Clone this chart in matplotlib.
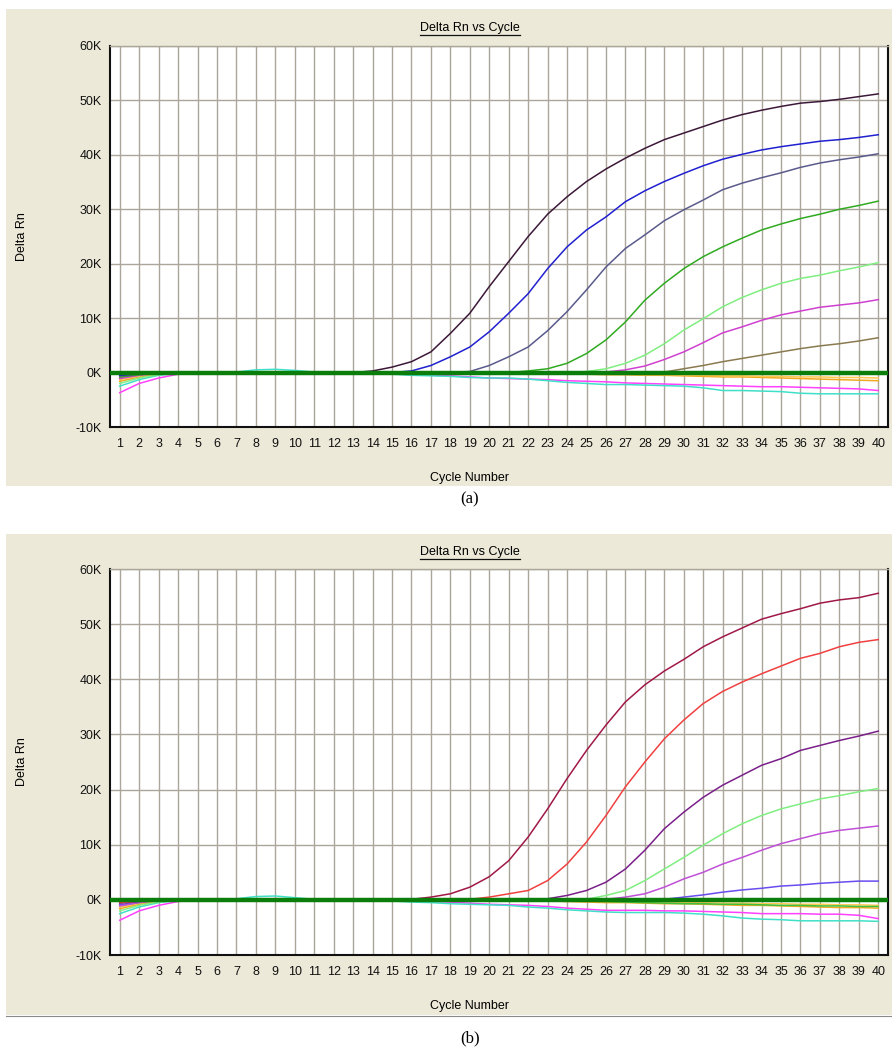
import matplotlib
matplotlib.use("Agg")
import matplotlib.pyplot as plt
from matplotlib.patches import Rectangle
from matplotlib.lines import Line2D

# Cycle numbers shared by both panels
cycles = list(range(1, 41))
yticks = [-10, 0, 10, 20, 30, 40, 50, 60]
ytickLabels = ["-10K", "0K", "10K", "20K", "30K", "40K", "50K", "60K"]

# Panel (a) amplification curves, values in thousands
a_dark = [-0.3, -0.1, 0, 0, 0, 0, 0, 0, -0.3, -0.3, -0.3, 0, 0, 0.3, 1.0, 2.0, 3.8, 7.2, 10.9, 15.8,
          20.4, 25.0, 29.1, 32.3, 35.1, 37.4, 39.4, 41.2, 42.8, 44.0, 45.2, 46.4, 47.4, 48.2, 48.9, 49.5, 49.8, 50.2, 50.7, 51.2]
a_blue = [-0.5, -0.2, 0, 0, 0, 0, 0, 0, 0, 0, 0, 0, 0, 0, 0, 0.3, 1.3, 2.9, 4.7, 7.5,
          10.9, 14.5, 19.1, 23.1, 26.2, 28.6, 31.4, 33.4, 35.1, 36.6, 38.0, 39.2, 40.1, 40.9, 41.5, 42.0, 42.5, 42.8, 43.2, 43.7]
a_slate = [-0.6, -0.3, 0, 0, 0, 0, 0, 0, 0, 0, 0, 0, 0, 0, 0, 0, 0, 0, 0.2, 1.3,
           2.9, 4.7, 7.7, 11.2, 15.2, 19.4, 22.8, 25.3, 27.9, 29.9, 31.7, 33.6, 34.8, 35.8, 36.7, 37.7, 38.5, 39.1, 39.6, 40.2]
a_green = [-0.8, -0.4, 0, 0, 0, 0, 0, 0, 0, 0, 0, 0, 0, 0, 0, 0, 0, 0, 0, 0,
           0, 0.3, 0.7, 1.7, 3.5, 6.0, 9.3, 13.3, 16.4, 19.1, 21.3, 23.1, 24.7, 26.2, 27.3, 28.3, 29.1, 30.0, 30.7, 31.5]
a_light = [-2.0, -1.0, -0.4, 0, 0, 0, 0, 0, 0, 0, 0, 0, 0, 0, 0, 0, 0, 0, 0, 0,
           0, 0, 0, 0, 0.2, 0.7, 1.7, 3.2, 5.3, 7.8, 9.9, 12.1, 13.8, 15.2, 16.4, 17.3, 17.9, 18.7, 19.4, 20.2]
a_orchid = [-1.1, -0.5, -0.1, 0, 0, 0, 0, 0, 0, 0, 0, 0, 0, 0, 0, 0, 0, 0, 0, 0,
            0, 0, 0, 0, 0, 0.1, 0.5, 1.2, 2.4, 3.8, 5.5, 7.3, 8.4, 9.6, 10.6, 11.3, 12.0, 12.4, 12.8, 13.4]
a_olive = [-0.9, -0.4, 0, 0, 0, 0, 0, 0, 0, 0, 0, 0, 0, 0, 0, 0, 0, 0, 0, 0,
           0, 0, 0, 0, 0, 0, 0, 0, 0.1, 0.7, 1.3, 2.0, 2.6, 3.2, 3.8, 4.4, 4.9, 5.3, 5.8, 6.4]
# Panel (a) drifting curves
a_cyan = [-2.5, -1.3, -0.5, -0.1, 0, 0, 0.1, 0.5, 0.6, 0.4, 0.1, 0, 0, -0.1, -0.3, -0.5, -0.6, -0.7, -0.9, -1.0,
          -1.0, -1.2, -1.5, -1.8, -2.0, -2.2, -2.2, -2.3, -2.4, -2.5, -2.8, -3.3, -3.3, -3.4, -3.5, -3.8, -3.9, -3.9, -3.9, -3.9]
a_pink = [-3.7, -2.0, -1.0, -0.3, 0, 0, 0, 0, 0, 0, 0, 0, 0, 0, -0.2, -0.4, -0.5, -0.6, -0.8, -1.0,
          -1.1, -1.2, -1.3, -1.5, -1.6, -1.7, -1.9, -2.0, -2.1, -2.2, -2.3, -2.4, -2.5, -2.6, -2.6, -2.7, -2.8, -2.9, -3.0, -3.3]
a_orange = [-1.6, -0.8, -0.2, 0, 0, 0, 0, 0, 0, 0, 0, 0, 0, 0, 0, 0, 0, 0, 0, -0.1,
            -0.1, -0.2, -0.2, -0.3, -0.3, -0.4, -0.4, -0.5, -0.5, -0.6, -0.7, -0.8, -0.8, -0.9, -1.0, -1.1, -1.2, -1.3, -1.4, -1.5]
a_gold = [-1.3, -0.6, -0.1, 0, 0, 0, 0, 0, 0, 0, 0, 0, 0, 0, 0, 0, 0, 0, 0, 0,
          0, -0.1, -0.1, -0.2, -0.2, -0.3, -0.3, -0.4, -0.4, -0.5, -0.5, -0.6, -0.6, -0.7, -0.7, -0.8, -0.8, -0.9, -0.9, -1.0]

# Panel (b) amplification curves
b_crimson = [-0.3, -0.1, 0, 0, 0, 0, 0, 0, 0, 0, 0, 0, 0, 0, 0, 0.1, 0.5, 1.1, 2.3, 4.2,
             7.1, 11.4, 16.5, 22.0, 27.1, 31.7, 35.9, 39.0, 41.5, 43.6, 45.9, 47.7, 49.3, 50.9, 51.9, 52.8, 53.8, 54.4, 54.8, 55.6]
b_red = [-0.5, -0.2, 0, 0, 0, 0, 0, 0, 0, 0, 0, 0, 0, 0, 0, 0, 0, 0, 0.1, 0.5,
         1.1, 1.7, 3.5, 6.5, 10.5, 15.3, 20.5, 25.0, 29.2, 32.6, 35.6, 37.8, 39.5, 41.0, 42.4, 43.8, 44.7, 45.9, 46.7, 47.2]
b_purple = [-0.6, -0.3, 0, 0, 0, 0, 0, 0, 0, 0, 0, 0, 0, 0, 0, 0, 0, 0, 0, 0,
            0, 0, 0.2, 0.8, 1.7, 3.2, 5.6, 9.0, 12.9, 15.9, 18.6, 20.8, 22.6, 24.4, 25.6, 27.1, 28.0, 28.9, 29.7, 30.6]
b_light = [-2.0, -1.0, -0.4, 0, 0, 0, 0, 0, 0, 0, 0, 0, 0, 0, 0, 0, 0, 0, 0, 0,
           0, 0, 0, 0, 0.1, 0.8, 1.7, 3.5, 5.6, 7.7, 9.9, 12.0, 13.8, 15.3, 16.5, 17.4, 18.3, 18.9, 19.6, 20.2]
b_orchid = [-1.1, -0.5, -0.1, 0, 0, 0, 0, 0, 0, 0, 0, 0, 0, 0, 0, 0, 0, 0, 0, 0,
            0, 0, 0, 0, 0, 0.1, 0.5, 1.1, 2.3, 3.8, 5.0, 6.5, 7.7, 9.0, 10.2, 11.1, 12.0, 12.6, 13.0, 13.4]
b_violet = [-0.9, -0.4, 0, 0, 0, 0, 0, 0, 0, 0, 0, 0, 0, 0, 0, 0, 0, 0, 0, 0,
            0, 0, 0, 0, 0, 0, 0, 0, 0.1, 0.5, 0.9, 1.4, 1.8, 2.1, 2.5, 2.7, 3.0, 3.2, 3.4, 3.4]
# Panel (b) drifting curves
b_cyan = [-2.5, -1.3, -0.5, -0.1, 0, 0, 0.2, 0.6, 0.7, 0.4, 0.1, 0, 0, -0.1, -0.2, -0.4, -0.5, -0.7, -0.8, -0.9,
          -1.0, -1.3, -1.5, -1.8, -2.0, -2.2, -2.3, -2.3, -2.3, -2.4, -2.6, -2.9, -3.3, -3.5, -3.6, -3.8, -3.8, -3.8, -3.8, -3.9]
b_pink = [-3.7, -2.0, -1.0, -0.3, 0, 0, 0, 0, 0, 0, 0, 0, 0, 0, 0, -0.2, -0.3, -0.4, -0.6, -0.8,
          -0.9, -1.0, -1.2, -1.5, -1.7, -1.9, -1.9, -1.9, -2.0, -2.0, -2.1, -2.2, -2.3, -2.5, -2.5, -2.5, -2.6, -2.6, -2.8, -3.4]
b_orange = [-1.6, -0.8, -0.2, 0, 0, 0, 0, 0, 0, 0, 0, 0, 0, 0, 0, 0, 0, 0, 0, -0.1,
            -0.1, -0.2, -0.2, -0.3, -0.4, -0.5, -0.5, -0.6, -0.7, -0.7, -0.8, -0.9, -1.0, -1.0, -1.1, -1.2, -1.3, -1.4, -1.4, -1.5]
b_gold = [-1.3, -0.6, -0.1, 0, 0, 0, 0, 0, 0, 0, 0, 0, 0, 0, 0, 0, 0, 0, 0, 0,
          0, -0.1, -0.1, -0.2, -0.2, -0.3, -0.3, -0.4, -0.4, -0.5, -0.5, -0.6, -0.6, -0.7, -0.7, -0.8, -0.8, -0.9, -0.9, -1.0]
b_lime = [-1.0, -0.5, -0.1, 0, 0, 0, 0, 0, 0, 0, 0, 0, 0, 0, 0, 0, 0, 0, 0, 0,
          0, 0, 0, -0.1, -0.2, -0.3, -0.4, -0.5, -0.6, -0.7, -0.7, -0.8, -0.8, -0.9, -1.0, -1.0, -1.1, -1.1, -1.2, -1.2]

panelA = [(a_pink, "#ff40ff"), (a_cyan, "#40e0c8"), (a_orange, "#f0a820"), (a_gold, "#ffc850"),
          (a_olive, "#8a7a50"), (a_orchid, "#d040d0"), (a_light, "#80ee80"), (a_green, "#30aa20"),
          (a_slate, "#5a5a8c"), (a_blue, "#2020d0"), (a_dark, "#3c1838")]
panelB = [(b_pink, "#ff40ff"), (b_cyan, "#40e0c8"), (b_orange, "#f0a820"), (b_gold, "#ffc850"),
          (b_lime, "#40c040"), (b_violet, "#6a4cf0"), (b_orchid, "#c050d8"), (b_light, "#80ee80"),
          (b_purple, "#7a1f8a"), (b_red, "#f04040"), (b_crimson, "#a01848")]

beige = "#ece9d8"
gridColor = "#aaa69a"
W, H = 892, 1051

plt.rcParams['font.family'] = ['Liberation Sans', 'DejaVu Sans']

fig = plt.figure(figsize=(W / 100, H / 100), dpi=100)
fig.patch.set_facecolor("white")


def fx(px):
    return px / W


def fy(py):
    return 1 - py / H


def drawPanel(curves, panelTop, panelBottom, axTop, axBottom, titleY, xlabelY, caption, captionY):
    # Beige window background
    fig.add_artist(Rectangle((fx(6), fy(panelBottom)), fx(886), (panelBottom - panelTop) / H,
                             transform=fig.transFigure, facecolor=beige, edgecolor="none", zorder=-5))

    ax = fig.add_axes([fx(110), fy(axBottom), fx(778), (axBottom - axTop) / H])
    ax.set_facecolor("white")
    for values, color in curves:
        ax.plot(cycles, values, color=color, lw=1.1, zorder=3)

    # Threshold line with arrow heads
    ax.plot([0.5, 40.5], [0, 0], color="#0a7d0a", lw=3.2, zorder=4, solid_capstyle="butt")
    ax.annotate("", xy=(0.45, 0), xytext=(1.2, 0),
                arrowprops=dict(arrowstyle="->", color="#0b3d0b", lw=1.3), zorder=5)
    ax.annotate("", xy=(40.55, 0), xytext=(39.8, 0),
                arrowprops=dict(arrowstyle="->", color="#0b3d0b", lw=1.3), zorder=5)

    ax.set_xlim(0.5, 40.5)
    ax.set_ylim(-10, 60)
    ax.set_xticks(cycles)
    ax.set_xticklabels([str(c) for c in cycles])
    ax.set_yticks(yticks)
    ax.set_yticklabels(ytickLabels)
    ax.tick_params(length=0, labelsize=9, colors="#111111")
    ax.tick_params(axis="x", pad=8)
    ax.tick_params(axis="y", pad=6)
    ax.grid(True, color=gridColor, lw=1.0)
    ax.set_axisbelow(True)
    for side in ["left", "bottom", "right"]:
        ax.spines[side].set_color("#111111")
        ax.spines[side].set_linewidth(1.5)
    ax.spines["top"].set_color(gridColor)
    ax.spines["top"].set_linewidth(1.0)

    title = fig.text(fx(470), fy(titleY), "Delta Rn vs Cycle", ha="center", va="center", fontsize=9)
    fig.text(fx(470), fy(xlabelY), "Cycle Number", ha="center", va="center", fontsize=9)
    fig.text(fx(22), fy((axTop + axBottom) / 2), "Delta Rn", ha="center", va="center",
             rotation=90, fontsize=9)
    fig.text(fx(470), fy(captionY), caption, ha="center", va="center", fontsize=12,
             family="Liberation Serif")
    return title


titleA = drawPanel(panelA, 9, 486, 46, 427, 28, 478, "(a)", 499)
titleB = drawPanel(panelB, 534, 1015, 569, 955, 552, 1006, "(b)", 1038)

# Thin edge under the second window
fig.add_artist(Line2D([fx(6), 1], [fy(1016), fy(1016)], transform=fig.transFigure,
                      color="#8a8a8a", lw=0.8))

# Underline the window titles
fig.canvas.draw()
renderer = fig.canvas.get_renderer()
for title in [titleA, titleB]:
    bb = title.get_window_extent(renderer).transformed(fig.transFigure.inverted())
    fig.add_artist(Line2D([bb.x0, bb.x1], [bb.y0 - 0.0005, bb.y0 - 0.0005],
                          transform=fig.transFigure, color="#111111", lw=0.9))

fig.savefig("out.png", dpi=100, facecolor="white")
